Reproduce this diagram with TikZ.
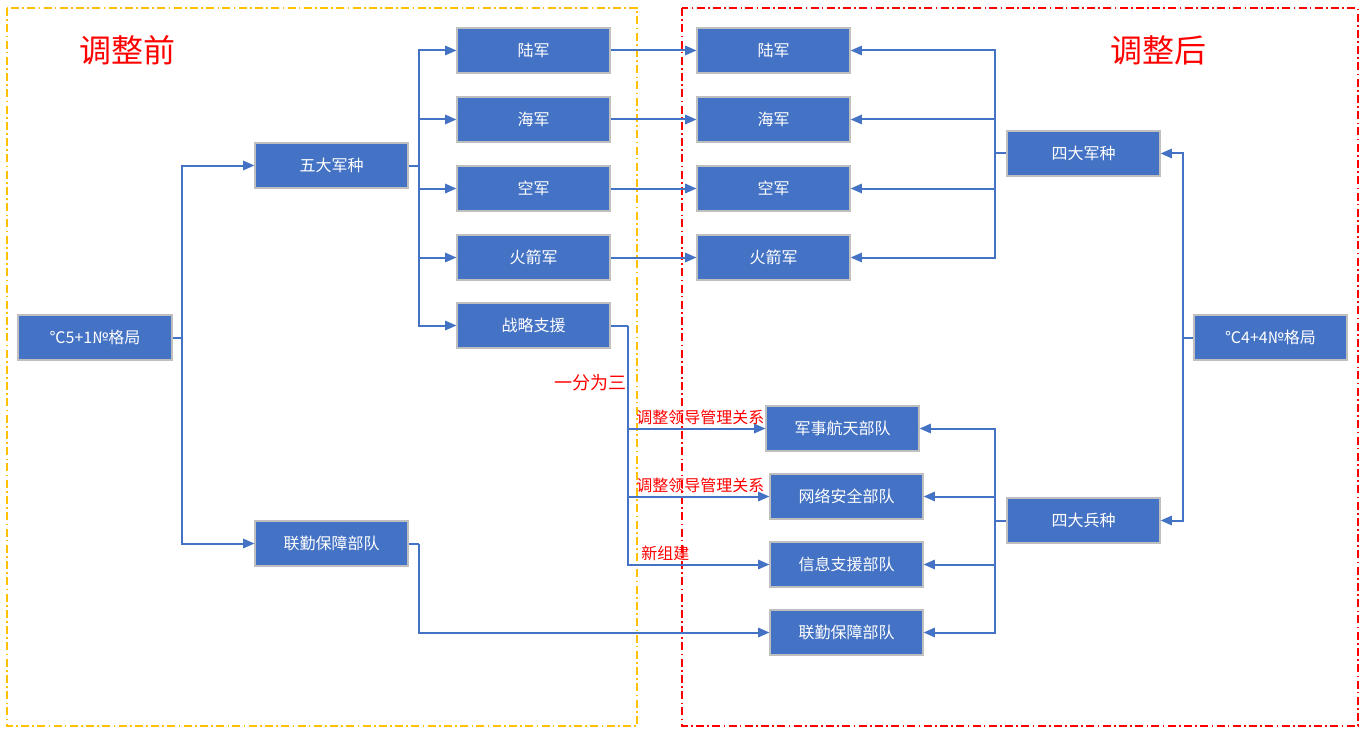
\documentclass[tikz,border=0pt]{standalone}
\usepackage{fontspec}
\setmainfont{Noto Sans CJK SC}
\usetikzlibrary{arrows.meta}
\definecolor{boxblue}{HTML}{4472C4}
\definecolor{boxedge}{HTML}{BFBFBF}
\definecolor{frameyellow}{HTML}{FFC000}
\definecolor{framered}{HTML}{FF0000}
\tikzset{
  unit/.style={draw=boxedge, line width=0.8pt, fill=boxblue, text=white, minimum width=153*0.75pt, minimum height=45*0.75pt, inner sep=0pt, font=\fontsize{12}{14}\selectfont},
  link/.style={draw=boxblue, line width=1.5pt},
  arr/.style={link, -{Triangle[length=8.5pt,width=7pt]}},
  frame/.style={line width=1pt, dash pattern=on 6pt off 2.5pt on 1.2pt off 2.5pt},
  title/.style={text=red, font=\fontsize{24}{28}\selectfont},
  note/.style={text=red, font=\fontsize{12}{14}\selectfont, inner sep=0pt},
}
\begin{document}
\begin{tikzpicture}[x=0.75pt,y=-0.75pt]
\useasboundingbox (0,0) rectangle (1362,738);
% frames
\draw[frame, draw=frameyellow] (7,8) rectangle (637,726);
\draw[frame, draw=framered] (682,8) rectangle (1358,726);
\node[title] (tb) at (127,50) {调整前};
\node[title] (ta) at (1158,50) {调整后};
% left nodes
\node[unit, minimum width=154*0.75pt] (root1) at (95,337.5) {℃5+1№格局};
\node[unit] (wd) at (331.5,165.5) {五大军种};
\node[unit] (lq1) at (331.5,543.5) {联勤保障部队};
\node[unit] (lj1) at (533.5,50.5) {陆军};
\node[unit] (hj1) at (533.5,119.5) {海军};
\node[unit] (kj1) at (533.5,188.5) {空军};
\node[unit] (hjj1) at (533.5,257.5) {火箭军};
\node[unit] (zl) at (533.5,325.5) {战略支援};
% right nodes
\node[unit] (lj2) at (773.5,50.5) {陆军};
\node[unit] (hj2) at (773.5,119.5) {海军};
\node[unit] (kj2) at (773.5,188.5) {空军};
\node[unit] (hjj2) at (773.5,257.5) {火箭军};
\node[unit] (sdjz) at (1083.5,153.5) {四大军种};
\node[unit] (sdbz) at (1083.5,520.5) {四大兵种};
\node[unit] (root2) at (1270.5,337.5) {℃4+4№格局};
\node[unit] (htbd) at (842.5,428.5) {军事航天部队};
\node[unit] (wlaq) at (846.5,496.5) {网络安全部队};
\node[unit] (xxzy) at (846.5,564.5) {信息支援部队};
\node[unit] (lq2) at (846.5,632.5) {联勤保障部队};
% left tree
\coordinate (c1) at (182,337.5);
\draw[link] (root1.east) -- (c1);
\draw[arr] (c1) |- (wd.west);
\draw[arr] (c1) |- (lq1.west);
\coordinate (c2) at (419,165.5);
\draw[link] (wd.east) -- (c2);
\draw[arr] (c2) |- (lj1.west);
\draw[arr] (c2) |- (hj1.west);
\draw[arr] (c2) |- (kj1.west);
\draw[arr] (c2) |- (hjj1.west);
\draw[arr] (c2) |- (zl.west);
% straight links
\draw[arr] (lj1.east) -- (lj2.west);
\draw[arr] (hj1.east) -- (hj2.west);
\draw[arr] (kj1.east) -- (kj2.west);
\draw[arr] (hjj1.east) -- (hjj2.west);
% strategic support split
\coordinate (c3) at (628,325.5);
\draw[link] (zl.east) -- (c3);
\draw[arr] (c3) |- (htbd.west);
\draw[arr] (c3) |- (wlaq.west);
\draw[arr] (c3) |- (xxzy.west);
% logistics
\coordinate (c4) at (419,543.5);
\draw[link] (lq1.east) -- (c4);
\draw[arr] (c4) |- (lq2.west);
% right tree
\coordinate (c5) at (1183,337.5);
\draw[link] (root2.west) -- (c5);
\draw[arr] (c5) |- (sdjz.east);
\draw[arr] (c5) |- (sdbz.east);
\coordinate (c6) at (995,153.5);
\draw[link] (sdjz.west) -- (c6);
\draw[arr] (c6) |- (lj2.east);
\draw[arr] (c6) |- (hj2.east);
\draw[arr] (c6) |- (kj2.east);
\draw[arr] (c6) |- (hjj2.east);
\coordinate (c7) at (995,520.5);
\draw[link] (sdbz.west) -- (c7);
\draw[arr] (c7) |- (htbd.east);
\draw[arr] (c7) |- (wlaq.east);
\draw[arr] (c7) |- (xxzy.east);
\draw[arr] (c7) |- (lq2.east);
% labels
\node[note, anchor=east, font=\fontsize{13.5}{15}\selectfont] (n1) at (627,383) {一分为三};
\node[note, anchor=west] (n2) at (636,417) {调整领导管理关系};
\node[note, anchor=west] (n3) at (636,485) {调整领导管理关系};
\node[note, anchor=west] (n4) at (641,553) {新组建};
\end{tikzpicture}
\end{document}
